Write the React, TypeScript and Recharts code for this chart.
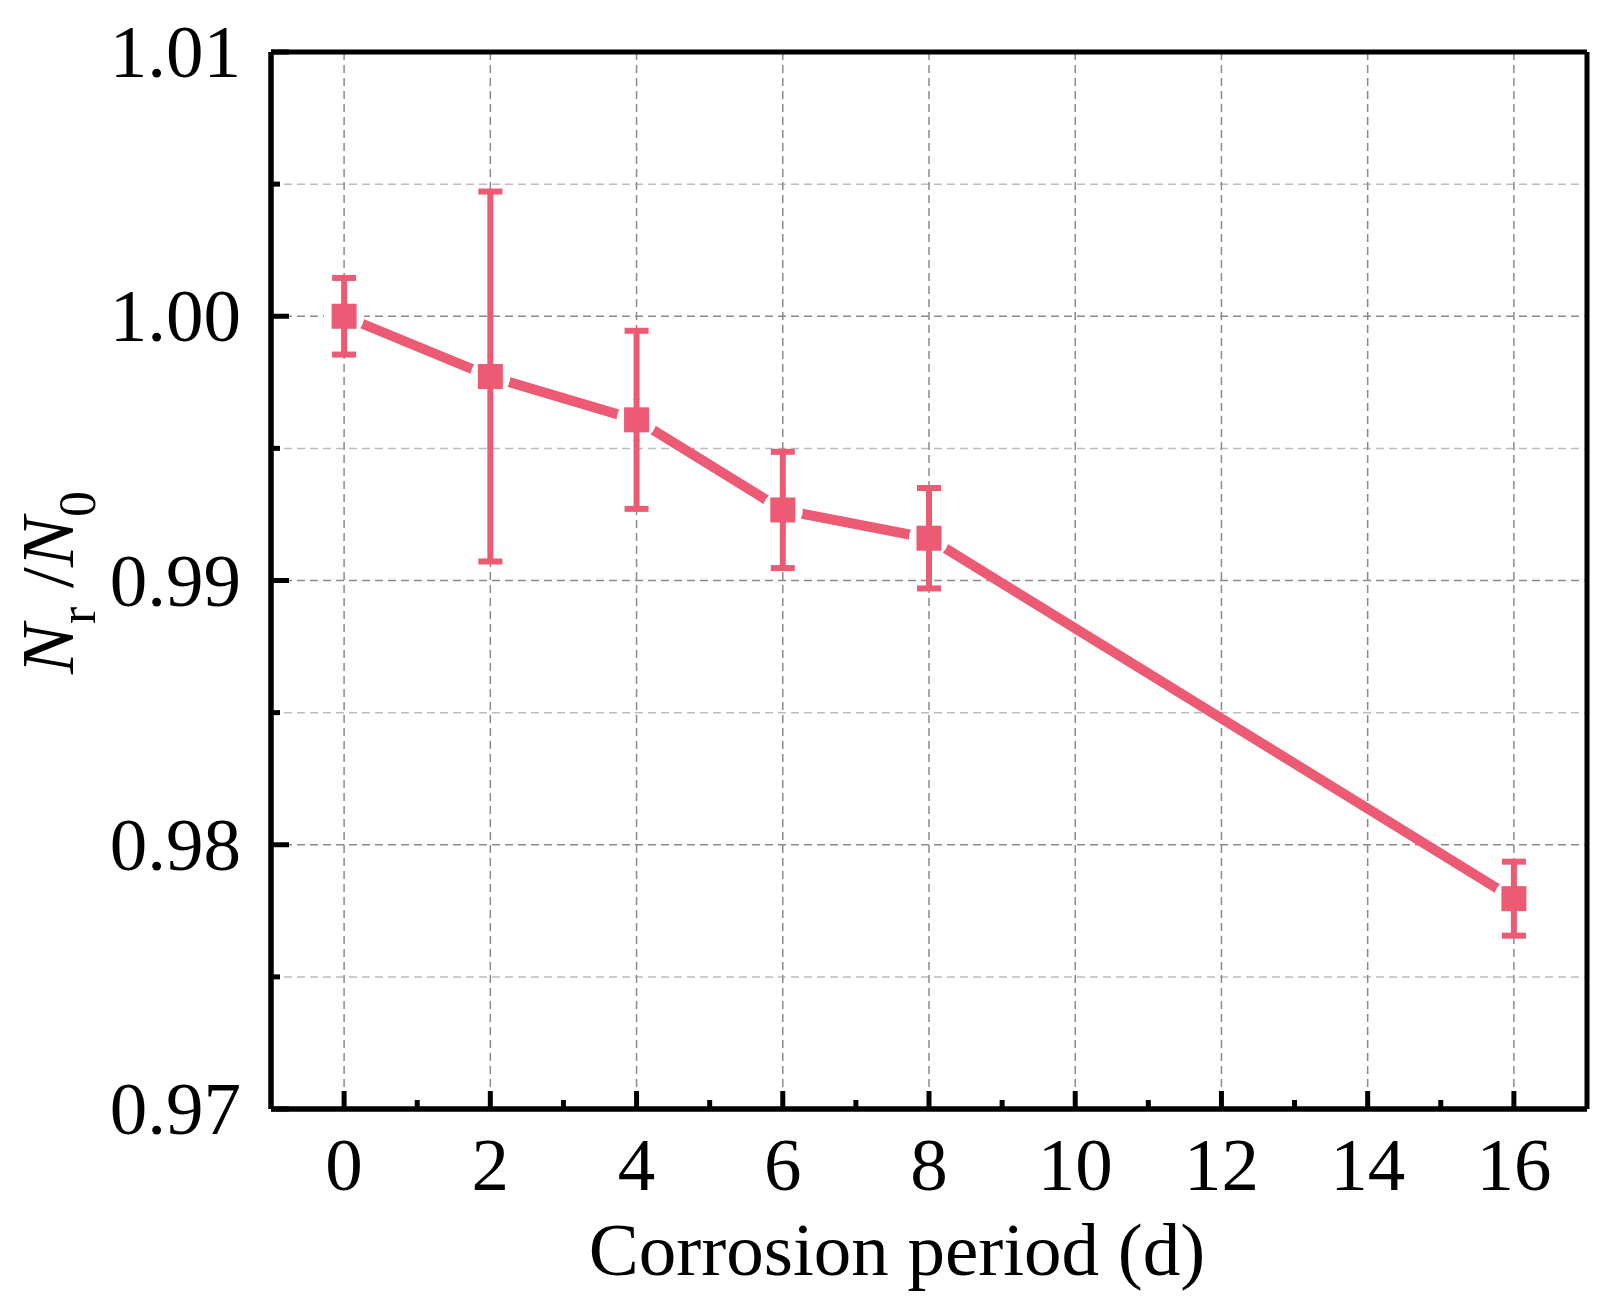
import React from 'react';
import { ComposedChart, Line, XAxis, YAxis, CartesianGrid, ErrorBar, Label, LabelList } from 'recharts';

// corrosion period (days) — category axis, one band per label
const DAYS = ['0', '2', '4', '6', '8', '10', '12', '14', '16'];
// Nr / N0 ratio and its symmetric error (no test at 10, 12, 14 d)
const RATIO = [1.0, 0.99772, 0.99608, 0.99267, 0.9916, null, null, null, 0.97796];
const ERR = [0.00145, 0.007, 0.00337, 0.0022, 0.0019, null, null, null, 0.0014];

const Y_TICKS = [0.97, 0.975, 0.98, 0.985, 0.99, 0.995, 1.0, 1.005, 1.01];
const Y_MAJOR = [0.98, 0.99, 1.0];
const Y_MINOR = [0.975, 0.985, 0.995, 1.005];
const Y_EDGES = [0.97, 1.01];

const data = DAYS.map((day, i) => ({ day, ratio: RATIO[i], err: ERR[i] }));

const W = 1605;
const H = 1310;
const M = { top: 52, right: 18, bottom: 0, left: 0 };
const Y_AXIS_W = 271;
const X_AXIS_H = 201;
const PLOT_LEFT = M.left + Y_AXIS_W;
const PLOT_RIGHT = W - M.right;
const BAND = (PLOT_RIGHT - PLOT_LEFT) / DAYS.length;

const PINK = '#ED5A73';
const FONT = '"Liberation Serif", "Times New Roman", serif';
const FRAME = 5;
const ERR_W = 6;

const isMajor = (v: number) => Math.round(v * 1000) % 10 === 0;
const bad = (v: any) => v == null || Number.isNaN(v);

const XTick = (props: any) => {
  const { x, y, payload, index } = props;
  const last = index === DAYS.length - 1;
  return (
    <g>
      <line x1={x} y1={y} x2={x} y2={y - 18} stroke="#000" strokeWidth={FRAME} />
      {!last && (
        <line x1={x + BAND / 2} y1={y} x2={x + BAND / 2} y2={y - 9} stroke="#000" strokeWidth={FRAME} />
      )}
      <text x={x} y={y + 81} textAnchor="middle" fontFamily={FONT} fontSize={75} fill="#000">
        {payload.value}
      </text>
    </g>
  );
};

const YTick = (props: any) => {
  const { x, y, payload } = props;
  const major = isMajor(payload.value);
  return (
    <g>
      <line x1={x} y1={y} x2={x + (major ? 18 : 9)} y2={y} stroke="#000" strokeWidth={FRAME} />
      {major && (
        <text x={x - 30} y={y + 25} textAnchor="end" fontFamily={FONT} fontSize={75} fill="#000">
          {payload.value.toFixed(2)}
        </text>
      )}
    </g>
  );
};

const XTitle = (props: any) => {
  const vb = props.viewBox;
  return (
    <text x={vb.x + vb.width / 2 - 32} y={vb.y + 166} textAnchor="middle" fontFamily={FONT} fontSize={75} fill="#000">
      Corrosion period (d)
    </text>
  );
};

const YTitle = (props: any) => {
  const vb = props.viewBox;
  const cy = vb.y + vb.height / 2 + 2;
  return (
    <text transform={`translate(73, ${cy}) rotate(-90)`} textAnchor="middle" fontFamily={FONT} fontSize={75} fill="#000">
      <tspan fontStyle="italic">N</tspan>
      <tspan fontSize={52} dy={22}>r</tspan>
      <tspan dy={-22}> /</tspan>
      <tspan fontStyle="italic">N</tspan>
      <tspan fontSize={52} dy={22}>0</tspan>
    </text>
  );
};

const Square = (props: any) => {
  const { cx, cy, index } = props;
  if (bad(cy)) return <g key={`s${index}`} />;
  return <rect key={`s${index}`} x={cx - 12.5} y={cy - 12.5} width={25} height={25} fill={PINK} />;
};

// drawn in the label layer (above the curve): white disc cuts the line like
// Origin does, the error bar stem is redrawn through it, square on top
const Marker = (props: any) => {
  const x = props.x ?? props.viewBox?.x;
  const y = props.y ?? props.viewBox?.y;
  if (bad(x) || bad(y) || props.value == null) return null;
  return (
    <g>
      <circle cx={x} cy={y} r={20} fill="#fff" />
      <line x1={x} y1={y - 21} x2={x} y2={y + 21} stroke={PINK} strokeWidth={ERR_W} />
      <rect x={x - 12.5} y={y - 12.5} width={25} height={25} fill={PINK} />
    </g>
  );
};

export default function App() {
  return (
    <div style={{ position: 'absolute', left: 0, top: 0, background: '#fff' }}>
      <ComposedChart width={W} height={H} data={data} margin={M}>
        <CartesianGrid horizontalValues={Y_MINOR} vertical={false} stroke="#bdbdbd" strokeDasharray="8 5" strokeWidth={1.5} />
        <CartesianGrid horizontalValues={Y_MAJOR} stroke="#8a8a8a" strokeDasharray="8 5" strokeWidth={1.5} />
        <CartesianGrid
          horizontalValues={Y_EDGES}
          verticalPoints={[PLOT_LEFT, PLOT_RIGHT]}
          stroke="#000"
          strokeWidth={FRAME}
        />
        <XAxis
          dataKey="day"
          type="category"
          scale="band"
          height={X_AXIS_H}
          interval={0}
          tickSize={0}
          tickMargin={0}
          tickLine={false}
          axisLine={{ stroke: '#000', strokeWidth: FRAME }}
          tick={<XTick />}
        >
          <Label content={<XTitle />} />
        </XAxis>
        <YAxis
          type="number"
          domain={[0.97, 1.01]}
          ticks={Y_TICKS}
          interval={0}
          width={Y_AXIS_W}
          tickSize={0}
          tickMargin={0}
          tickLine={false}
          axisLine={{ stroke: '#000', strokeWidth: FRAME }}
          tick={<YTick />}
          allowDataOverflow
        >
          <Label content={<YTitle />} />
        </YAxis>
        <Line
          dataKey="ratio"
          stroke={PINK}
          strokeWidth={10}
          dot={Square}
          activeDot={false}
          connectNulls
          isAnimationActive={false}
        >
          <ErrorBar dataKey="err" direction="y" width={12} strokeWidth={ERR_W} stroke={PINK} isAnimationActive={false} />
          <LabelList dataKey="ratio" content={Marker} />
        </Line>
      </ComposedChart>
    </div>
  );
}
